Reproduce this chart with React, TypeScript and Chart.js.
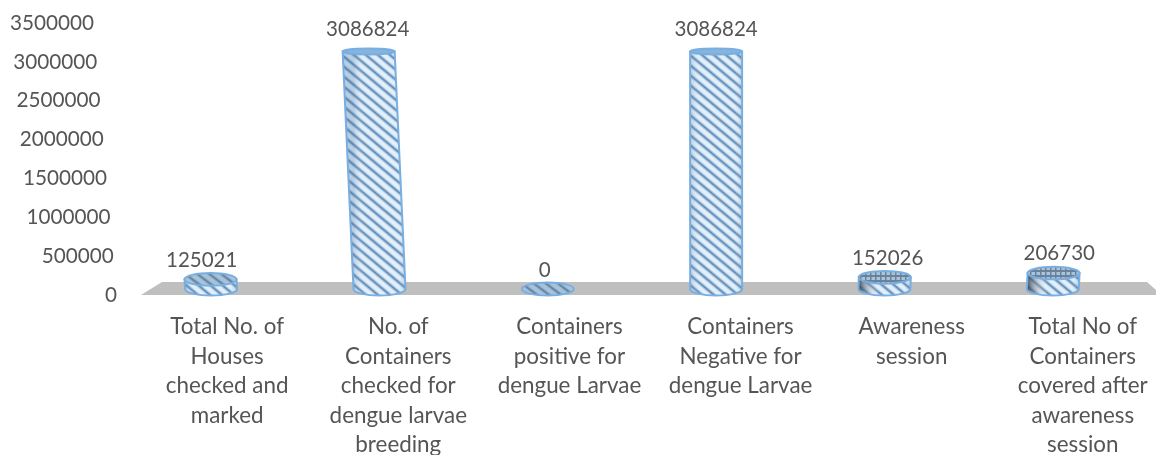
import React, { useEffect, useRef } from "react";
import { Chart, registerables } from "chart.js";

Chart.register(...registerables);

const categories = [
  ["Total No. of", "Houses", "checked and", "marked"],
  ["No. of", "Containers", "checked for", "dengue larvae", "breeding"],
  ["Containers", "positive for", "dengue Larvae"],
  ["Containers", "Negative for", "dengue Larvae"],
  ["Awareness", "session"],
  ["Total No of", "Containers", "covered after", "awareness", "session"],
];
const values = [125021, 3086824, 0, 3086824, 152026, 206730];
const yTicks = [0, 500000, 1000000, 1500000, 2000000, 2500000, 3000000, 3500000];

const FONT = "Lato";
const TEXT = "#555555";
const VANISH_X = 718;
const SKEW = 1.35e-4;
const BASE_LIFT = 6;

function stripes(w: number, h: number, bg: string, soft: string, softW: number, core: string, coreW: number) {
  const c = document.createElement("canvas");
  c.width = w;
  c.height = h;
  const g = c.getContext("2d")!;
  g.fillStyle = bg;
  g.fillRect(0, 0, w, h);
  for (const [col, lw] of [[soft, softW], [core, coreW]] as [string, number][]) {
    g.strokeStyle = col;
    g.lineWidth = lw;
    for (let i = -2; i <= 2; i++) {
      g.beginPath();
      g.moveTo(-w, i * h - h);
      g.lineTo(2 * w, i * h + 2 * h);
      g.stroke();
    }
  }
  return g.createPattern(c, "repeat")!;
}

function hatch(size: number, bg: string, line: string) {
  const c = document.createElement("canvas");
  c.width = size;
  c.height = size;
  const g = c.getContext("2d")!;
  g.fillStyle = bg;
  g.fillRect(0, 0, size, size);
  g.fillStyle = line;
  g.fillRect(0, 0, size, 2);
  g.fillRect(0, 0, 1.5, size);
  return g.createPattern(c, "repeat")!;
}

const cylinderPlugin = {
  id: "cylinders",
  beforeDraw(chart: any) {
    const { ctx, scales } = chart;
    const y0 = scales.y.getPixelForValue(0);
    ctx.save();
    ctx.fillStyle = "#bfbfbf";
    ctx.beginPath();
    ctx.moveTo(141, y0);
    ctx.lineTo(162, y0 - 13);
    ctx.lineTo(1147, y0 - 13);
    ctx.lineTo(chart.width, y0 - 5);
    ctx.lineTo(chart.width, y0);
    ctx.closePath();
    ctx.fill();
    ctx.restore();
    // The perspective view slants the value axis and fans out the category labels.
    for (const item of scales.y.getLabelItems()) {
      if (item.shifted) continue;
      item.shifted = true;
      const [x, y] = item.options.translation;
      item.options.translation = [x - (y0 - y) * 0.085, y];
    }
    for (const item of scales.x.getLabelItems()) {
      if (item.shifted) continue;
      item.shifted = true;
      const [x, y] = item.options.translation;
      item.options.translation = [x + 16 + (x - 211) * 0.0166, y];
    }
  },
  afterDatasetsDraw(chart: any) {
    const { ctx } = chart;
    const meta = chart.getDatasetMeta(0);
    const body = stripes(12, 10, "#e3eff9", "#a6c8e8", 4, "#5f86ad", 1.6);
    const capLeft = stripes(12, 9, "#a5c3dd", "#8aa9c4", 3.5, "#66809a", 1.4);
    const capRight = hatch(5, "#a8c4dc", "#6b8197");
    meta.data.forEach((bar: any, i: number) => {
      const rx = 26;
      const ry = 6.5;
      const bx = bar.x;
      const by = bar.base - BASE_LIFT;
      const h = (bar.base - bar.y) * 0.99;
      const tx = bx + (bx - VANISH_X) * SKEW * h;
      const ty = by - h;
      const capRy = ry * (1 - h / 430);
      const tall = h > 100;
      ctx.save();
      ctx.lineWidth = 2;
      ctx.strokeStyle = "#79aee0";
      if (h > 0) {
        const path = new Path2D();
        path.moveTo(tx - rx, ty);
        path.lineTo(bx - rx, by);
        path.ellipse(bx, by, rx, ry, 0, Math.PI, 0, true);
        path.lineTo(tx + rx, ty);
        path.closePath();
        ctx.fillStyle = body;
        ctx.fill(path);
        const right = bx > VANISH_X && !tall;
        const shade = ctx.createLinearGradient(bx - rx, 0, bx + rx, 0);
        shade.addColorStop(0, right ? "rgba(40,55,75,0.85)" : "rgba(90,130,170,0.3)");
        shade.addColorStop(right ? 0.4 : 0.2, "rgba(255,255,255,0.05)");
        shade.addColorStop(0.85, "rgba(255,255,255,0.05)");
        shade.addColorStop(1, "rgba(90,130,170,0.3)");
        ctx.fillStyle = shade;
        ctx.fill(path);
        ctx.stroke(path);
      }
      ctx.beginPath();
      ctx.ellipse(tx, ty, rx, capRy, 0, 0, Math.PI * 2);
      ctx.fillStyle = tall ? "#86b4de" : bx > VANISH_X ? capRight : capLeft;
      ctx.fill();
      ctx.stroke();
      ctx.restore();

      ctx.save();
      ctx.font = `20.5px ${FONT}`;
      ctx.fillStyle = TEXT;
      ctx.textAlign = "center";
      ctx.textBaseline = "middle";
      const lx = tx + (bx - VANISH_X) * 0.018 * (1 - h / 280);
      ctx.fillText(String(values[i]), lx, ty - 19 - h * 0.015);
      ctx.restore();
    });
  },
};

export default function App() {
  const ref = useRef<HTMLCanvasElement>(null);
  useEffect(() => {
    const chart = new Chart(ref.current!, {
      type: "bar",
      data: {
        labels: categories,
        datasets: [{ data: values, backgroundColor: "rgba(0,0,0,0)", borderWidth: 0, barThickness: 52 }],
      },
      plugins: [cylinderPlugin],
      options: {
        responsive: false,
        animation: false,
        layout: { padding: { top: 23, right: 19, left: 0, bottom: 0 } },
        plugins: { legend: { display: false }, tooltip: { enabled: false } },
        scales: {
          x: {
            grid: { display: false },
            border: { display: false },
            afterFit: (s: any) => { s.height = 160; },
            ticks: {
              autoSkip: false,
              maxRotation: 0,
              minRotation: 0,
              padding: 9,
              color: TEXT,
              font: { family: FONT, size: 22.4, lineHeight: 1.32 },
            },
          },
          y: {
            min: 0,
            max: 3500000,
            grid: { display: false },
            border: { display: false },
            afterFit: (s: any) => { s.width = 127; },
            afterBuildTicks: (s: any) => { s.ticks = yTicks.map((value) => ({ value })); },
            ticks: {
              padding: 2,
              color: TEXT,
              font: { family: FONT, size: 20.7 },
              callback: (v: any) => String(v),
            },
          },
        },
      },
    });
    return () => chart.destroy();
  }, []);
  return (
    <div style={{ position: "absolute", left: 0, top: 0, width: 1156, height: 455, background: "#fff", overflow: "hidden" }}>
      <canvas ref={ref} width={1156} height={455} style={{ display: "block" }} />
    </div>
  );
}
